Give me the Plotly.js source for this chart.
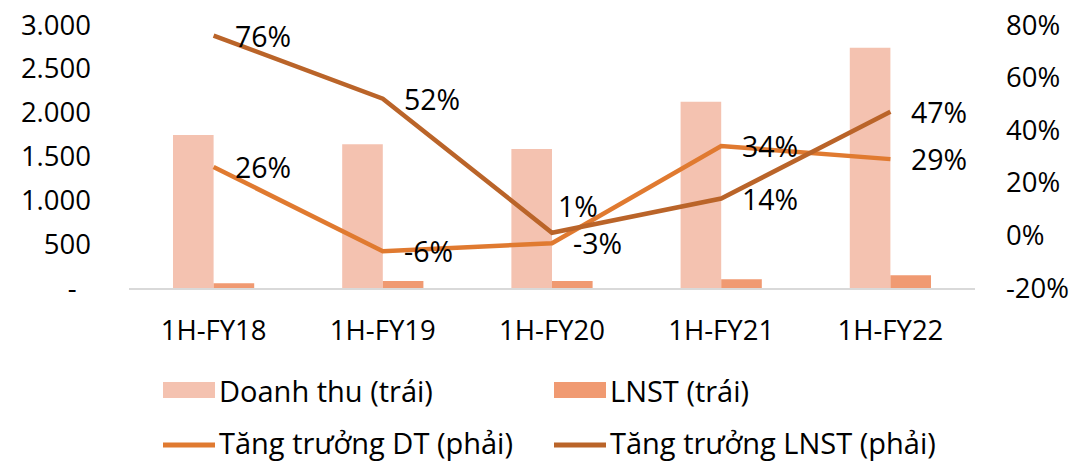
<!DOCTYPE html>
<html>
<head>
<meta charset="utf-8">
<script src="https://cdn.plot.ly/plotly-3.0.1.min.js"></script>
<style>html,body{margin:0;padding:0;background:#fff;}#chart{width:1073px;height:461px;}</style>
</head>
<body>
<div id="chart"></div>
<script>
const categories = ["1H-FY18", "1H-FY19", "1H-FY20", "1H-FY21", "1H-FY22"];
const doanhThu = [1745, 1640, 1585, 2125, 2740];
const lnst = [55, 80, 80, 100, 145];
const tangTruongDT = [26, -6, -3, 34, 29];
const tangTruongLNST = [76, 52, 1, 14, 47];
const seriesNames = ["Doanh thu (trái)", "LNST (trái)", "Tăng trưởng DT (phải)", "Tăng trưởng LNST (phải)"];
const leftTicks = [0, 500, 1000, 1500, 2000, 2500, 3000];
const leftTickLabels = ["-\u00a0\u00a0", "500", "1.000", "1.500", "2.000", "2.500", "3.000"];
const rightTicks = [-20, 0, 20, 40, 60, 80];
const rightTickLabels = ["-20%", "0%", "20%", "40%", "60%", "80%"];

const FONT = "Open Sans, Noto Sans, sans-serif";
const FS = 27.5;
const FS_LABEL = 28.5;
const FS_LEGEND = 29;
const colors = ["#F4C2B0", "#F09A72", "#E07A30", "#BA6429"];

const traces = [
  {type: "bar", name: seriesNames[0], x: categories, y: doanhThu, marker: {color: colors[0]}, showlegend: false, hoverinfo: "skip"},
  {type: "bar", name: seriesNames[1], x: categories, y: lnst, marker: {color: colors[1]}, showlegend: false, hoverinfo: "skip"},
  {type: "scatter", mode: "lines", name: seriesNames[2], x: categories, y: tangTruongDT, yaxis: "y2",
   line: {color: colors[2], width: 4.5}, showlegend: false, hoverinfo: "skip"},
  {type: "scatter", mode: "lines", name: seriesNames[3], x: categories, y: tangTruongLNST, yaxis: "y2",
   line: {color: colors[3], width: 4.5}, showlegend: false, hoverinfo: "skip"}
];

const M = {l: 129, r: 98, t: 25, b: 173};
const W = 1073, H = 461;
const PW = W - M.l - M.r, PH = H - M.t - M.b;
const px2x = p => (p - M.l) / PW;
const py2y = p => (H - M.b - p) / PH;

const annotations = [];
// data labels
const labelShift = {"3-2": {x: 4, y: 27}};
[[tangTruongDT, 2], [tangTruongLNST, 3]].forEach(([arr, si]) => {
  arr.forEach((v, i) => {
    const s = labelShift[si + "-" + i] || {x: 19, y: 0};
    annotations.push({
      x: categories[i], y: v, xref: "x", yref: "y2", text: String(v) + "%",
      showarrow: false, xanchor: "left", yanchor: "middle", xshift: s.x, yshift: s.y,
      font: {family: FONT, size: FS_LABEL, color: "#000"}
    });
  });
});

// manual legend
const shapes = [];
const legendCols = [163, 554];
const legendRows = [390, 442];
[0, 1, 2, 3].forEach(k => {
  const col = legendCols[k % 2], row = legendRows[Math.floor(k / 2)];
  if (k < 2) {
    shapes.push({type: "rect", xref: "paper", yref: "paper", x0: px2x(col), x1: px2x(col + 52),
      y0: py2y(row + 8), y1: py2y(row - 8), fillcolor: colors[k], line: {width: 0}});
  } else {
    shapes.push({type: "line", xref: "paper", yref: "paper", x0: px2x(col), x1: px2x(col + 52),
      y0: py2y(row + 3), y1: py2y(row + 3), line: {color: colors[k], width: 5}});
  }
  annotations.push({x: px2x(col + 54), y: py2y(row), xref: "paper", yref: "paper", text: seriesNames[k],
    showarrow: false, xanchor: "left", yanchor: "middle", font: {family: FONT, size: FS_LEGEND, color: "#000"}});
});

const layout = {
  width: W, height: H,
  margin: {l: M.l, r: M.r, t: M.t, b: M.b, pad: 0},
  paper_bgcolor: "#fff", plot_bgcolor: "#fff",
  font: {family: FONT, size: FS, color: "#000"},
  showlegend: false,
  barmode: "group", bargap: 0.52, bargroupgap: 0,
  xaxis: {type: "category", showline: true, linecolor: "#d9d9d9", linewidth: 2, ticks: "",
    showgrid: false, zeroline: false, ticklabelstandoff: 17, tickfont: {family: FONT, size: FS, color: "#000"}},
  yaxis: {range: [0, 3000], tickvals: leftTicks, ticktext: leftTickLabels, showgrid: false, zeroline: false,
    showline: false, ticks: "", ticklabelstandoff: 37, tickfont: {family: FONT, size: FS, color: "#000"}},
  yaxis2: {range: [-20, 80], overlaying: "y", side: "right", tickvals: rightTicks, ticktext: rightTickLabels,
    showgrid: false, zeroline: false, showline: false, ticks: "", ticklabelstandoff: 30,
    tickfont: {family: FONT, size: FS, color: "#000"}},
  annotations: annotations,
  shapes: shapes
};

Plotly.newPlot("chart", traces, layout, {staticPlot: true, displayModeBar: false});
</script>
</body>
</html>
